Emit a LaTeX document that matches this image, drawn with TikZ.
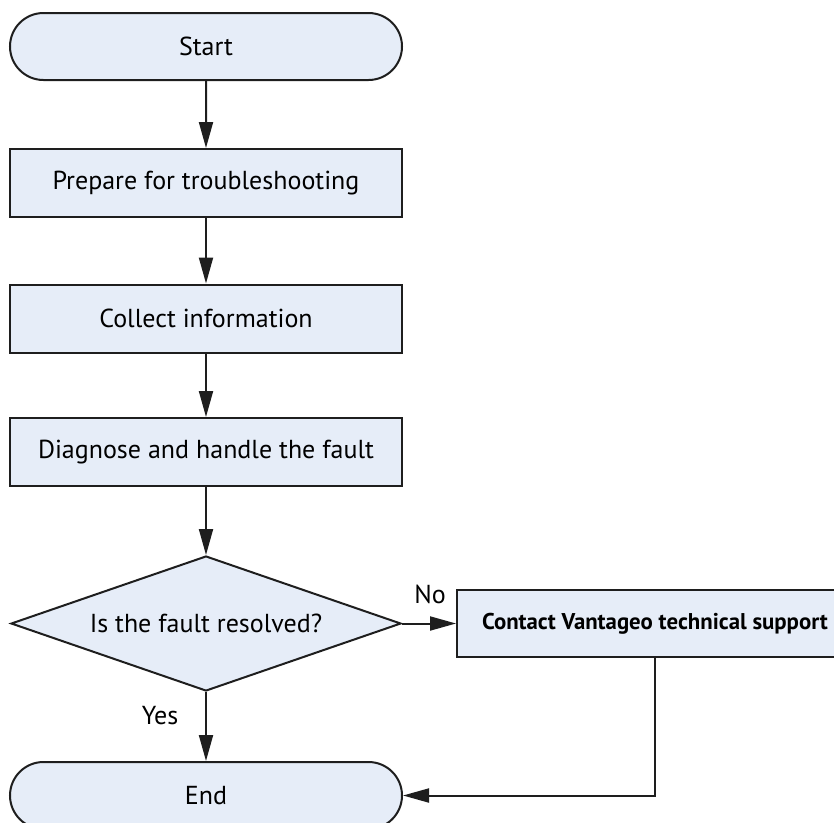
\documentclass[tikz,border=0pt]{standalone}
\usepackage{fontspec}
\setmainfont{PT Sans}
\usetikzlibrary{shapes.geometric,shapes.misc,arrows.meta}
\definecolor{boxfill}{RGB}{230,237,248}
\definecolor{linecol}{RGB}{30,30,30}
\begin{document}
\begin{tikzpicture}[x=1pt,y=-1pt,
  base/.style={draw=linecol,line width=2pt,fill=boxfill,inner sep=0pt,font=\fontsize{26}{30}\selectfont,text=black},
  term/.style={base,rounded rectangle,minimum width=392pt,minimum height=67pt},
  procbox/.style={base,rectangle,minimum width=392pt,minimum height=68pt},
  decision/.style={base,diamond,minimum width=390pt,minimum height=135pt,aspect=2.9},
  conn/.style={draw=linecol,line width=2pt,-{Triangle[length=26pt,width=14pt]}},
  lbl/.style={font=\fontsize{26}{30}\selectfont,inner sep=0pt}]
\useasboundingbox (0,0) rectangle (834,822);
\node[term] (start) at (206,46.5) {Start};
\node[procbox] (prep) at (206,183) {Prepare for troubleshooting};
\node[procbox] (coll) at (206,318.5) {Collect information};
\node[procbox] (diag) at (206,452) {Diagnose and handle the fault};
\node[decision] (dec) at (206,623.5) {Is the fault resolved?};
\node[base,rectangle,minimum width=396pt,minimum height=67pt,font=\fontsize{22.8}{27}\selectfont\bfseries] (cont) at (655,623.5) {Contact Vantageo technical support};
\node[term] (end) at (206,795.5) {End};
\draw[conn] (start) -- (prep);
\draw[conn] (prep) -- (coll);
\draw[conn] (coll) -- (diag);
\draw[conn] (diag) -- (dec);
\draw[conn] (dec) -- (end);
\draw[conn] (dec) -- (cont);
\draw[conn] (cont.south) |- (end.east);
\node[lbl] (yes) at (160,716) {Yes};
\node[lbl] (no) at (430,594) {No};
\end{tikzpicture}
\end{document}
